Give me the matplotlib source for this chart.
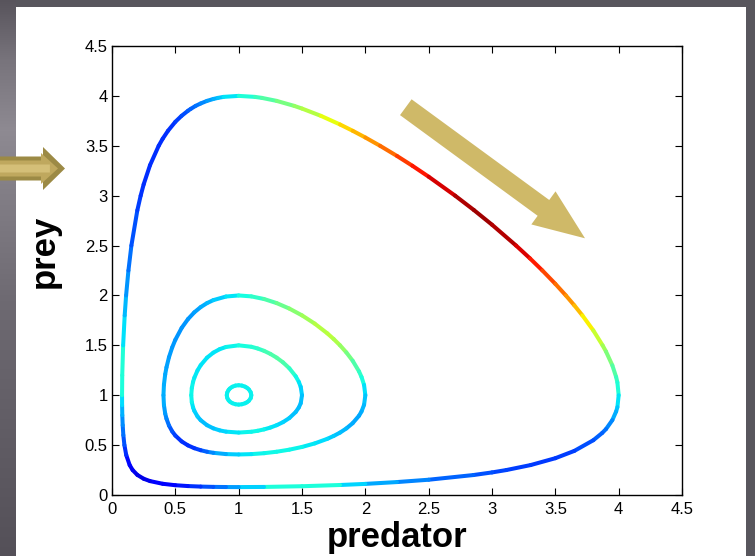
import numpy as np
import matplotlib
matplotlib.use("Agg")
import matplotlib.pyplot as plt
from matplotlib.collections import LineCollection
from matplotlib.colors import Normalize
from matplotlib.patches import Rectangle, FancyArrow

plt.rcParams['font.family'] = ['Liberation Sans', 'DejaVu Sans']

# ---------------- data (predator x, prey y, colour value on jet scale) ----------------
outer_x = [0.2007, 0.1629, 0.1394, 0.1125, 0.098, 0.0895, 0.0844, 0.0813, 0.0798, 0.0793,
           0.0808, 0.0879, 0.1002, 0.1113, 0.1297, 0.1531, 0.2, 0.2263, 0.25, 0.3,
           0.3687, 0.4, 0.442, 0.5, 0.5491, 0.6, 0.6218, 0.6605, 0.7, 0.7503,
           0.8, 0.837, 0.8805, 1.0, 1.128, 1.183, 1.2995, 1.438, 1.5, 1.649,
           1.8, 1.9005, 2.0, 2.116, 2.25, 2.371, 2.5, 2.7088, 2.8564, 3.0,
           3.19, 3.3, 3.3978, 3.5, 3.583, 3.65, 3.7135, 3.8, 3.873, 3.9,
           3.95, 3.98, 3.99, 4.0, 3.99, 3.98, 3.95, 3.9, 3.87, 3.8,
           3.65, 3.5, 3.305, 3.113, 3.0, 2.853, 2.5, 2.25, 2.0, 1.8,
           1.5, 1.2, 1.0, 0.9, 0.8, 0.7, 0.6, 0.5, 0.4, 0.3,
           0.25]
outer_y = [0.2007, 0.25, 0.3, 0.4, 0.5, 0.6, 0.7, 0.8, 0.9, 1.0,
           1.2, 1.5, 1.8, 2.0, 2.25, 2.5, 2.853, 3.0, 3.113, 3.305,
           3.5, 3.57, 3.65, 3.74, 3.8, 3.851, 3.87, 3.9, 3.924, 3.95,
           3.969, 3.98, 3.99, 4.0, 3.99, 3.98, 3.95, 3.9, 3.873, 3.8,
           3.7135, 3.65, 3.583, 3.5, 3.3978, 3.3, 3.19, 3.0, 2.8564, 2.7088,
           2.5, 2.371, 2.25, 2.116, 2.0, 1.9005, 1.8, 1.649, 1.5, 1.438,
           1.2995, 1.183, 1.128, 1.0, 0.8805, 0.837, 0.7503, 0.6605, 0.6218, 0.5491,
           0.442, 0.3687, 0.3, 0.25, 0.2263, 0.2, 0.1531, 0.1297, 0.1113, 0.1002,
           0.0879, 0.0808, 0.0793, 0.0798, 0.0813, 0.0844, 0.0895, 0.098, 0.1125, 0.1394,
           0.1629]
outer_c = [0.09, 0.10, 0.11, 0.15, 0.19, 0.22, 0.25, 0.28, 0.32, 0.36,
           0.41, 0.37, 0.32, 0.29, 0.25, 0.22, 0.19, 0.18, 0.17, 0.17,
           0.17, 0.17, 0.17, 0.18, 0.19, 0.21, 0.22, 0.23, 0.25, 0.27,
           0.29, 0.31, 0.33, 0.37, 0.41, 0.43, 0.47, 0.52, 0.54, 0.60,
           0.66, 0.70, 0.73, 0.77, 0.82, 0.87, 0.90, 0.95, 0.97, 0.97,
           0.94, 0.90, 0.86, 0.81, 0.77, 0.73, 0.69, 0.62, 0.56, 0.53,
           0.47, 0.43, 0.41, 0.37, 0.33, 0.31, 0.28, 0.24, 0.23, 0.21,
           0.19, 0.18, 0.18, 0.19, 0.20, 0.21, 0.24, 0.27, 0.31, 0.36,
           0.41, 0.36, 0.30, 0.26, 0.22, 0.19, 0.16, 0.13, 0.12, 0.10,
           0.095]

mid_x = [0.4063, 0.41, 0.42, 0.43, 0.45, 0.475, 0.5, 0.55, 0.6, 0.65,
         0.7, 0.75, 0.8, 0.9, 1.0, 1.1, 1.2, 1.3, 1.4, 1.5,
         1.6, 1.7, 1.75, 1.8, 1.85, 1.9, 1.95, 1.97, 1.99, 2.0,
         1.99, 1.97, 1.95, 1.9, 1.85, 1.8, 1.75, 1.7, 1.6, 1.5,
         1.4, 1.3, 1.2, 1.1, 1.0, 0.9, 0.8, 0.75, 0.7, 0.65,
         0.6, 0.55, 0.5, 0.475, 0.45, 0.43, 0.42, 0.41]
mid_y = [1.0, 1.1053, 1.2098, 1.279, 1.3815, 1.4783, 1.5555, 1.6746, 1.763, 1.8309,
         1.883, 1.9231, 1.953, 1.9892, 2.0, 1.9906, 1.9643, 1.9232, 1.8684, 1.8002,
         1.718, 1.6198, 1.5632, 1.5003, 1.429, 1.3454, 1.239, 1.1828, 1.103, 1.0,
         0.9035, 0.8371, 0.794, 0.7198, 0.6669, 0.6252, 0.5917, 0.563, 0.5168, 0.4815,
         0.4543, 0.4336, 0.4188, 0.4096, 0.4063, 0.41, 0.4228, 0.4336, 0.4488, 0.4691,
         0.497, 0.5367, 0.5958, 0.638, 0.6961, 0.765, 0.816, 0.9005]
mid_c = [0.30, 0.30, 0.29, 0.29, 0.28, 0.28, 0.27, 0.27, 0.27, 0.28,
         0.29, 0.30, 0.31, 0.34, 0.36, 0.39, 0.43, 0.46, 0.50, 0.53,
         0.56, 0.58, 0.57, 0.55, 0.51, 0.47, 0.42, 0.40, 0.36, 0.33,
         0.31, 0.30, 0.29, 0.29, 0.30, 0.31, 0.32, 0.33, 0.35, 0.36,
         0.37, 0.37, 0.37, 0.36, 0.34, 0.31, 0.28, 0.24, 0.20, 0.18,
         0.17, 0.17, 0.18, 0.20, 0.22, 0.25, 0.27, 0.29]

inner_x = [0.6257, 0.63, 0.64, 0.65, 0.675, 0.7, 0.75, 0.8, 0.85, 0.9,
           1.0, 1.1, 1.15, 1.2, 1.25, 1.3, 1.35, 1.4, 1.45, 1.475,
           1.49, 1.5, 1.49, 1.475, 1.45, 1.4, 1.35, 1.3, 1.25, 1.2,
           1.15, 1.1, 1.0, 0.9, 0.85, 0.8, 0.75, 0.7, 0.675, 0.65,
           0.64, 0.63]
inner_y = [1.0, 1.072, 1.1335, 1.175, 1.2481, 1.3005, 1.376, 1.4269, 1.4614, 1.4836,
           1.5, 1.4857, 1.4683, 1.4449, 1.4143, 1.3763, 1.3294, 1.27, 1.1901, 1.1333,
           1.0834, 1.0, 0.9197, 0.8774, 0.8311, 0.7711, 0.7301, 0.6995, 0.6758, 0.6574,
           0.6436, 0.6338, 0.6257, 0.635, 0.6477, 0.6681, 0.6997, 0.7497, 0.7872, 0.8432,
           0.8773, 0.9302]
inner_c = [0.37, 0.37, 0.36, 0.36, 0.35, 0.35, 0.35, 0.35, 0.35, 0.36,
           0.37, 0.39, 0.40, 0.42, 0.44, 0.45, 0.45, 0.43, 0.38, 0.36,
           0.34, 0.32, 0.31, 0.31, 0.31, 0.32, 0.33, 0.34, 0.35, 0.36,
           0.37, 0.37, 0.36, 0.34, 0.33, 0.32, 0.31, 0.31, 0.32, 0.33,
           0.34, 0.36]

tiny_x = [0.906, 0.91, 0.92, 0.93, 0.95, 0.975, 1.0, 1.025, 1.05, 1.065,
          1.08, 1.095, 1.1, 1.095, 1.08, 1.065, 1.05, 1.025, 1.0, 0.975,
          0.95, 0.93, 0.92, 0.91]
tiny_y = [1.0, 1.028, 1.052, 1.0667, 1.085, 1.0968, 1.1, 1.0968, 1.086, 1.075,
          1.059, 1.03, 1.0, 0.970, 0.9432, 0.9288, 0.919, 0.9092, 0.906, 0.9093,
          0.9199, 0.936, 0.9496, 0.972]
tiny_c = [0.36] * len(tiny_x)

tick_values = [0, 0.5, 1, 1.5, 2, 2.5, 3, 3.5, 4, 4.5]
tick_labels = ['0', '0.5', '1', '1.5', '2', '2.5', '3', '3.5', '4', '4.5']

orbits = [(outer_x, outer_y, outer_c), (mid_x, mid_y, mid_c),
          (inner_x, inner_y, inner_c), (tiny_x, tiny_y, tiny_c)]

# ---------------- figure ----------------
W, H = 755, 556
fig = plt.figure(figsize=(W / 100, H / 100), dpi=100)

# background (pixel coordinates, y downward)
bg = fig.add_axes([0, 0, 1, 1], zorder=0)
rows = np.arange(H)
gr = np.interp(rows, [0, 60, 130, 300, 556], [88, 120, 142, 110, 84])
img = np.zeros((H, W, 3))
img[:, :, :] = np.array([88, 86, 93]) / 255.0
img[:, :16, 0] = gr[:, None] / 255.0
img[:, :16, 1] = (gr[:, None] - 4) / 255.0
img[:, :16, 2] = (gr[:, None] + 4) / 255.0
bg.imshow(img, extent=[0, W, H, 0], aspect='auto', interpolation='bilinear')
bg.add_patch(Rectangle((16, 7), 730, H - 7, facecolor='white', edgecolor='none'))
bg.set_xlim(0, W)
bg.set_ylim(H, 0)
bg.axis('off')

# left decorative arrow
bg.add_patch(FancyArrow(0, 168.5, 65, 0, width=24, head_width=43, head_length=22,
                        length_includes_head=True, facecolor='#9c8a45', edgecolor='none'))
bg.add_patch(FancyArrow(0, 168.5, 58, 0, width=16, head_width=31, head_length=17,
                        length_includes_head=True, facecolor='#bfa85e', edgecolor='none'))
bg.add_patch(FancyArrow(0, 168.5, 50, 0, width=8, head_width=0.1, head_length=0.1,
                        length_includes_head=True, facecolor='#d4bf78', edgecolor='none'))

# big arrow inside the plot
bg.add_patch(FancyArrow(405.8, 107.2, 585 - 405.8, 238.3 - 107.2, width=19.6,
                        head_width=41, head_length=51.5, length_includes_head=True,
                        facecolor='#cfb968', edgecolor='none'))

# main axes
ax = fig.add_axes([112 / W, 1 - 495 / H, 570 / W, 449 / H], zorder=2)
ax.set_facecolor('none')
norm = Normalize(0, 1)
for xs, ys, cs in orbits:
    xs = np.append(xs, xs[0])
    ys = np.append(ys, ys[0])
    cs = np.append(cs, cs[0])
    pts = np.column_stack([xs, ys])
    segs = np.stack([pts[:-1], pts[1:]], axis=1)
    cv = (cs[:-1] + cs[1:]) / 2.0
    lc = LineCollection(segs, cmap='jet', norm=norm, linewidths=2.9,
                        capstyle='round', joinstyle='round')
    lc.set_array(cv)
    ax.add_collection(lc)

ax.set_xlim(0, 4.5)
ax.set_ylim(0, 4.5)
ax.set_xticks(tick_values)
ax.set_xticklabels(tick_labels)
ax.set_yticks(tick_values)
ax.set_yticklabels(tick_labels)
ax.tick_params(direction='in', length=5, width=0.8, top=True, right=True,
               labelsize=12, colors='black')
ax.tick_params(axis='x', pad=5)
ax.tick_params(axis='y', pad=3)
for s in ax.spines.values():
    s.set_linewidth(1.0)
    s.set_color('black')

fig.text(397 / W, 1 - 537 / H, 'predator', fontsize=25, fontweight='bold',
         ha='center', va='center')
fig.text(44 / W, 1 - 251 / H, 'prey', fontsize=25, fontweight='bold',
         ha='center', va='center', rotation=90)

fig.savefig('out.png', dpi=100)
